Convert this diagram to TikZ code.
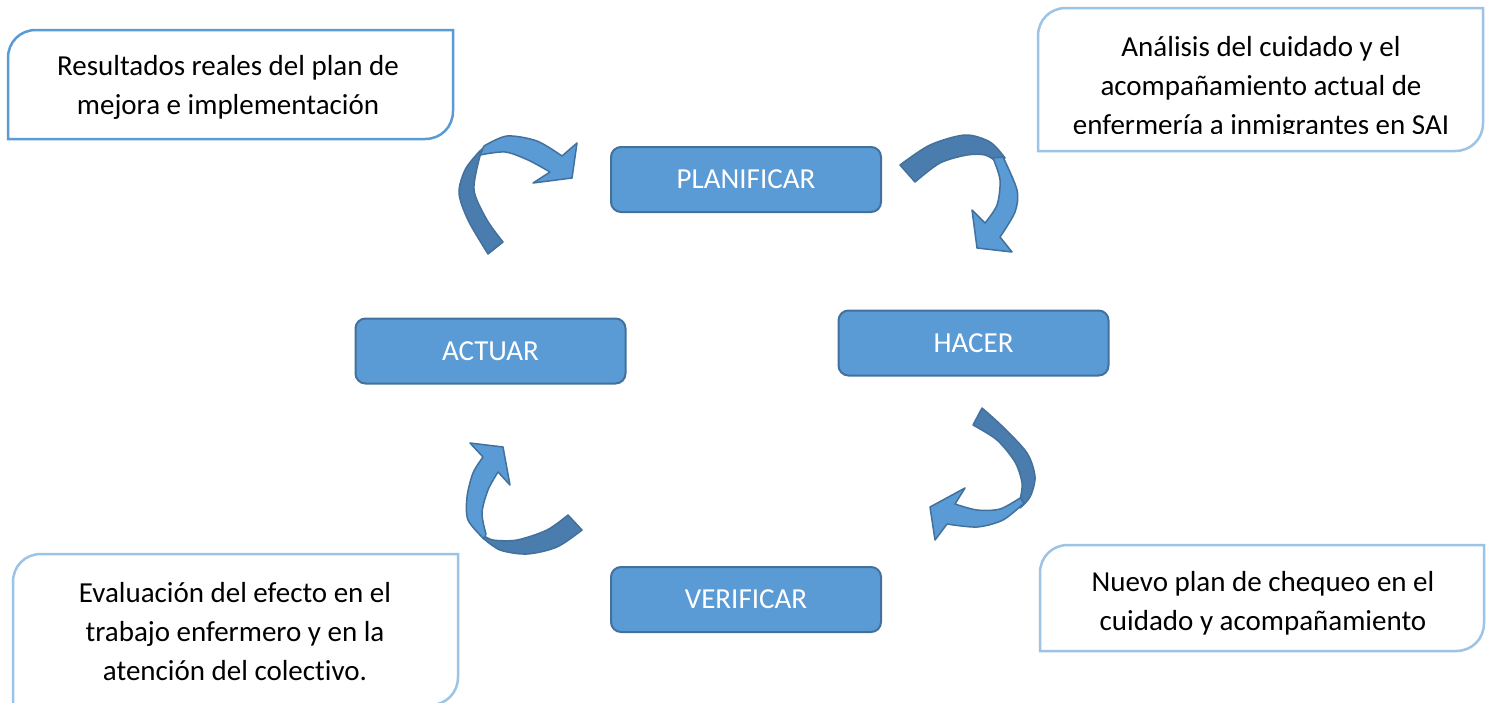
\documentclass[tikz,border=0pt]{standalone}
\usepackage{fontspec}
\setmainfont[Ligatures={NoCommon}]{Carlito}
\definecolor{boxfill}{HTML}{5B9BD5}
\definecolor{boxline}{HTML}{41719C}
\definecolor{darkband}{HTML}{4A7CAE}
\definecolor{callA}{HTML}{5B9BD5}
\definecolor{callB}{HTML}{9DC3E6}
\tikzset{
  stepbox/.style={rectangle, rounded corners=10pt, fill=boxfill, draw=boxline, line width=2pt,
    minimum width=270pt, minimum height=65pt, inner sep=0pt, text=white,
    font=\fontsize{29}{39}\selectfont},
  calltext/.style={align=center, inner sep=0pt, text=black, font=\fontsize{29}{39}\selectfont},
  callframe/.style={line width=2.5pt},
  lightpart/.style={fill=boxfill, draw=boxline, line width=1.5pt, line join=round},
  darkpart/.style={fill=darkband, draw=boxline, line width=1.5pt, line join=round}
}
\newcommand{\calloutframe}[5]{\draw[callframe,draw=#5] (#1,#4) -- (#1,#2+28) .. controls (#1,#2+12) and (#1+12,#2) .. (#1+28,#2) -- (#3,#2) -- (#3,#4-28) .. controls (#3,#4-12) and (#3-12,#4) .. (#3-28,#4) -- cycle;}
\begin{document}
\begin{tikzpicture}[x=1pt,y=-1pt]
\useasboundingbox (0,0) rectangle (1493,702);
\fill[white] (0,0) rectangle (1493,702);

% process boxes
\node[stepbox] (plan) at (746,179.5) {PLANIFICAR};
\node[stepbox] (hacer) at (973.5,343) {HACER};
\node[stepbox] (actuar) at (490.5,351) {ACTUAR};
\node[stepbox] (verif) at (746,599.5) {VERIFICAR};

% callouts
\calloutframe{8}{30}{453}{139}{callA}
\node[calltext] (res) at (228,87.5) {Resultados reales del plan de\\mejora e implementación};

\calloutframe{1038}{8}{1483}{151}{callB}
\begin{scope}
\clip (1038,8) rectangle (1483,133);
\node[calltext] (ana) at (1261,87.5) {Análisis del cuidado y el\\acompañamiento actual de\\enfermería a inmigrantes en SAI};
\end{scope}

\calloutframe{1040}{545}{1484}{651}{callB}
\node[calltext] (nuevo) at (1263,603.5) {Nuevo plan de chequeo en el\\cuidado y acompañamiento};

\calloutframe{13}{554}{458}{705}{callB}
\node[calltext] (eval) at (235,631.5) {Evaluación del efecto en el\\trabajo enfermero y en la\\atención del colectivo.};

% curved arrow 1 (ACTUAR -> PLANIFICAR)
\draw[darkpart] plot[smooth] coordinates {(488,254) (468,220) (459,193) (465,170) (478,153) (486,146)}
  -- plot[smooth] coordinates {(480,156) (474,190) (487,220) (503,242)} -- cycle;
\draw[lightpart] plot[smooth] coordinates {(484,146) (507,136) (537,141) (562,156)}
  -- (577,143) -- (572,178) -- (533,183) -- (550,172)
  -- plot[smooth] coordinates {(550,172) (528,160) (505,152) (480,155)} -- cycle;

% curved arrow 2 (PLANIFICAR -> HACER)
\draw[darkpart] plot[smooth] coordinates {(900,165) (930,145) (965,135) (990,142) (1005,158)}
  -- plot[smooth] coordinates {(997,162) (985,155) (967,155) (940,163) (915,182)} -- cycle;
\draw[lightpart] plot[smooth] coordinates {(1003,157) (1017,190) (1015,212) (1000,237)}
  -- (1012,252) -- (977,248) -- (972,210) -- (985,223)
  -- plot[smooth] coordinates {(985,223) (997,205) (1000,180) (993,158)} -- cycle;

% curved arrow 3 (HACER -> VERIFICAR)
\draw[darkpart] plot[smooth] coordinates {(982,408) (1003,427) (1027,453) (1035,477) (1030,497) (1020,508)}
  -- plot[smooth] coordinates {(1020,500) (1022,483) (1015,462) (997,440) (973,425)} -- cycle;
\draw[lightpart] plot[smooth] coordinates {(1024,503) (1003,520) (977,527) (947,524)}
  -- (935,540) -- (930,507) -- (965,488) -- (955,504)
  -- plot[smooth] coordinates {(955,504) (977,510) (1000,509) (1020,498)} -- cycle;

% curved arrow 4 (VERIFICAR -> ACTUAR)
\draw[darkpart] plot[smooth] coordinates {(582,530) (557,547) (527,554) (500,550) (483,538)}
  -- plot[smooth] coordinates {(483,535) (493,540) (517,540) (547,530) (568,515)} -- cycle;
\draw[lightpart] plot[smooth] coordinates {(484,539) (468,520) (467,497) (473,473) (483,457)}
  -- (470,443) -- (503,447) -- (510,485) -- (498,472)
  -- plot[smooth] coordinates {(498,472) (488,490) (482,513) (486,534)} -- cycle;
\end{tikzpicture}
\end{document}
